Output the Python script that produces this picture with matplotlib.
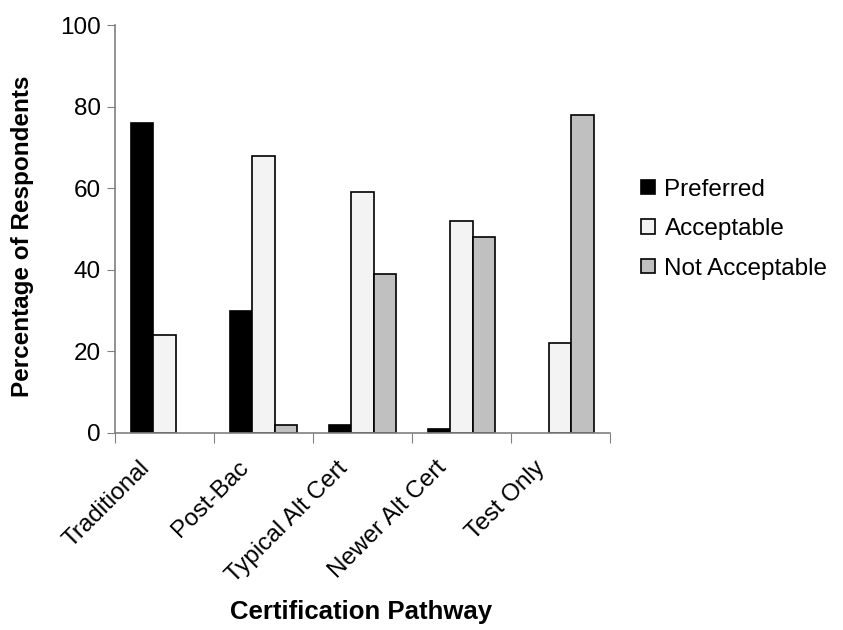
import matplotlib.pyplot as plt
import matplotlib.transforms as mtransforms
from matplotlib.patches import Patch
import numpy as np

plt.rcParams['font.family'] = ['Liberation Sans', 'DejaVu Sans']

pathways = ["Traditional", "Post-Bac", "Typical Alt Cert", "Newer Alt Cert", "Test Only"]
series_names = ["Preferred", "Acceptable", "Not Acceptable"]
preferred = [76, 30, 2, 1, 0]
acceptable = [24, 68, 59, 52, 22]
not_acceptable = [0, 2, 39, 48, 78]
colors = ["black", "#f3f3f3", "#c0c0c0"]

fig = plt.figure(figsize=(8.43, 6.3), dpi=100)
ax = fig.add_axes([0.1364, 0.3127, 0.587, 0.6476])

x = np.arange(len(pathways))
width = 0.225

def edge_widths(vals):
    # zero values get no outline at all (as in the original)
    return [1.2 if v > 0 else 0 for v in vals]

for i, vals in enumerate([preferred, acceptable, not_acceptable]):
    ax.bar(x + (i - 1) * width, vals, width, color=colors[i], edgecolor="black",
           linewidth=edge_widths(vals))

ax.set_xlim(-0.5, len(pathways) - 0.5)
ax.set_ylim(0, 100)
ax.set_yticks(np.arange(0, 101, 20))
ax.tick_params(axis="y", labelsize=17.5, direction="out", length=6, color="#808080", pad=4)

# category labels in the middle, ticks on the boundaries
ax.set_xticks(np.arange(-0.5, len(pathways), 1))
ax.set_xticklabels([])
ax.tick_params(axis="x", direction="out", length=7, color="#808080")
ax.set_xticks(x, minor=True)
ax.set_xticklabels(pathways, minor=True, rotation=45, ha="right", va="top",
                   rotation_mode="anchor", fontsize=17.5)
ax.tick_params(axis="x", which="minor", length=0, pad=10)
shift = mtransforms.ScaledTranslation(-0.26, -0.10, fig.dpi_scale_trans)
for lbl in ax.get_xticklabels(minor=True):
    lbl.set_transform(lbl.get_transform() + shift)

for side in ["top", "right"]:
    ax.spines[side].set_visible(False)
for side in ["left", "bottom"]:
    ax.spines[side].set_color("#808080")
    ax.spines[side].set_linewidth(1.2)

fig.text(0.027, 0.625, "Percentage of Respondents", fontsize=17.5, fontweight="bold",
         rotation=90, ha="center", va="center")
fig.text(0.428, 0.017, "Certification Pathway", fontsize=18.5, fontweight="bold", ha="center")

handles = [Patch(facecolor=c, edgecolor="black", linewidth=1.2) for c in colors]
fig.legend(handles, series_names, loc="center left", bbox_to_anchor=(0.760, 0.6365),
           frameon=False, fontsize=17.5, borderpad=0, borderaxespad=0,
           handlelength=0.58, handleheight=0.55, handletextpad=0.4, labelspacing=0.72)

plt.savefig("out.png")
